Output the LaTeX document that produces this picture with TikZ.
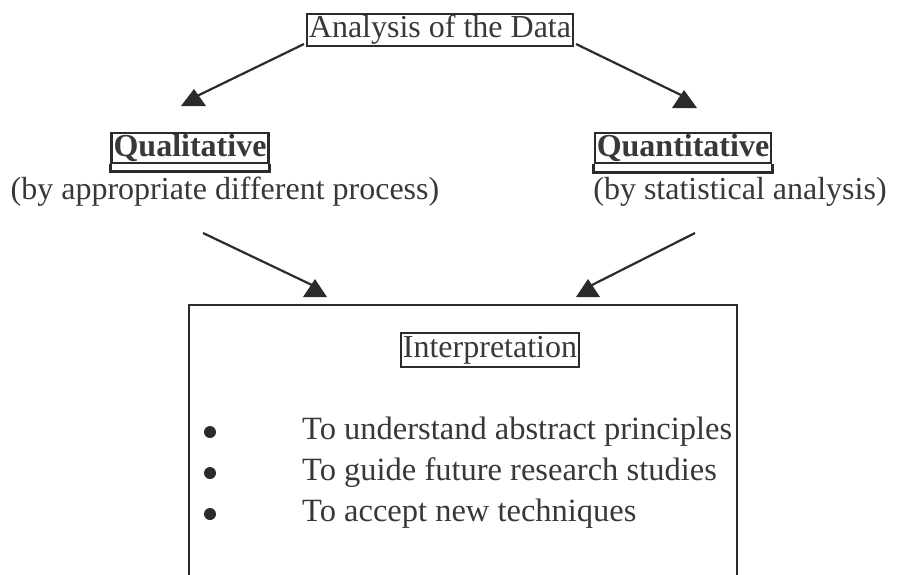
\documentclass[tikz,border=0pt]{standalone}
\usepackage{fontspec}
\setmainfont{Liberation Serif}
\definecolor{ink}{HTML}{2B2B2B}
\definecolor{txtc}{HTML}{383838}
\begin{document}
\begin{tikzpicture}[x=1pt,y=-1pt,
  big/.style={text=txtc, font=\fontsize{32}{36}\selectfont, inner sep=0pt},
  lbl/.style={draw=ink, line width=2.3pt, inner xsep=2pt, inner ysep=1.5pt},
  conn/.style={draw=ink, line width=2.2pt},
  headfill/.style={fill=ink},
  dot/.style={circle, fill=ink, inner sep=0pt, minimum size=12pt}
]
\useasboundingbox (0,0) rectangle (899,574);

% top
\node[big, lbl] (an) at (440,30) {Analysis of the Data};

% qualitative / quantitative
\node[big, lbl, font=\fontsize{32}{36}\selectfont\bfseries] (ql) at (190,148) {Qualitative};
\draw[ink, line width=2.3pt] (ql.south west) -- ++(0,7) -| (ql.south east);
\node[big] (qlt) at (225,192) {(by appropriate different process)};

\node[big, lbl, font=\fontsize{32}{36}\selectfont\bfseries] (qn) at (683,148) {Quantitative};
\draw[ink, line width=2.3pt] (qn.south west) -- ++(0,8) -| (qn.south east);
\node[big] (qnt) at (740,192) {(by statistical analysis)};

% interpretation box
\coordinate (boxtl) at (189,305);
\coordinate (boxtr) at (737,305);
\draw[ink, line width=1.5pt] (189,590) -- (boxtl) -- (boxtr) -- (737,590);
\node[big, lbl, inner xsep=2pt, inner ysep=3pt] (ip) at (490,350) {Interpretation};

\node[dot] (d1) at (210,432) {};
\node[dot] (d2) at (210,473) {};
\node[dot] (d3) at (210,514) {};
\node[big, anchor=west, font=\fontsize{32.5}{36}\selectfont] (t1) at (302,432) {To understand abstract principles};
\node[big, anchor=west, font=\fontsize{32.5}{36}\selectfont] (t2) at (302,473) {To guide future research studies};
\node[big, anchor=west, font=\fontsize{32.5}{36}\selectfont] (t3) at (302,514) {To accept new techniques};

% arrow heads
\coordinate (h1) at (194,89);
\coordinate (h2) at (684,90);
\coordinate (h3) at (315,279);
\coordinate (h4) at (588,279);
\fill[headfill] (h1) -- ++(-13,17) -- ++(25,0) -- cycle;
\fill[headfill] (h2) -- ++(-12,18) -- ++(25,0) -- cycle;
\fill[headfill] (h3) -- ++(-12,18) -- ++(24,0) -- cycle;
\fill[headfill] (h4) -- ++(-12,18) -- ++(24,0) -- cycle;

% connectors
\coordinate (s1) at (304,44);
\coordinate (s2) at (576,44);
\coordinate (s3) at (203,233);
\coordinate (s4) at (695,233);
\coordinate (e1) at (197,96);
\coordinate (e2) at (683,96);
\coordinate (e3) at (314,286);
\coordinate (e4) at (590,286);
\draw[conn] (s1) -- (e1);
\draw[conn] (s2) -- (e2);
\draw[conn] (s3) -- (e3);
\draw[conn] (s4) -- (e4);
\end{tikzpicture}
\end{document}
